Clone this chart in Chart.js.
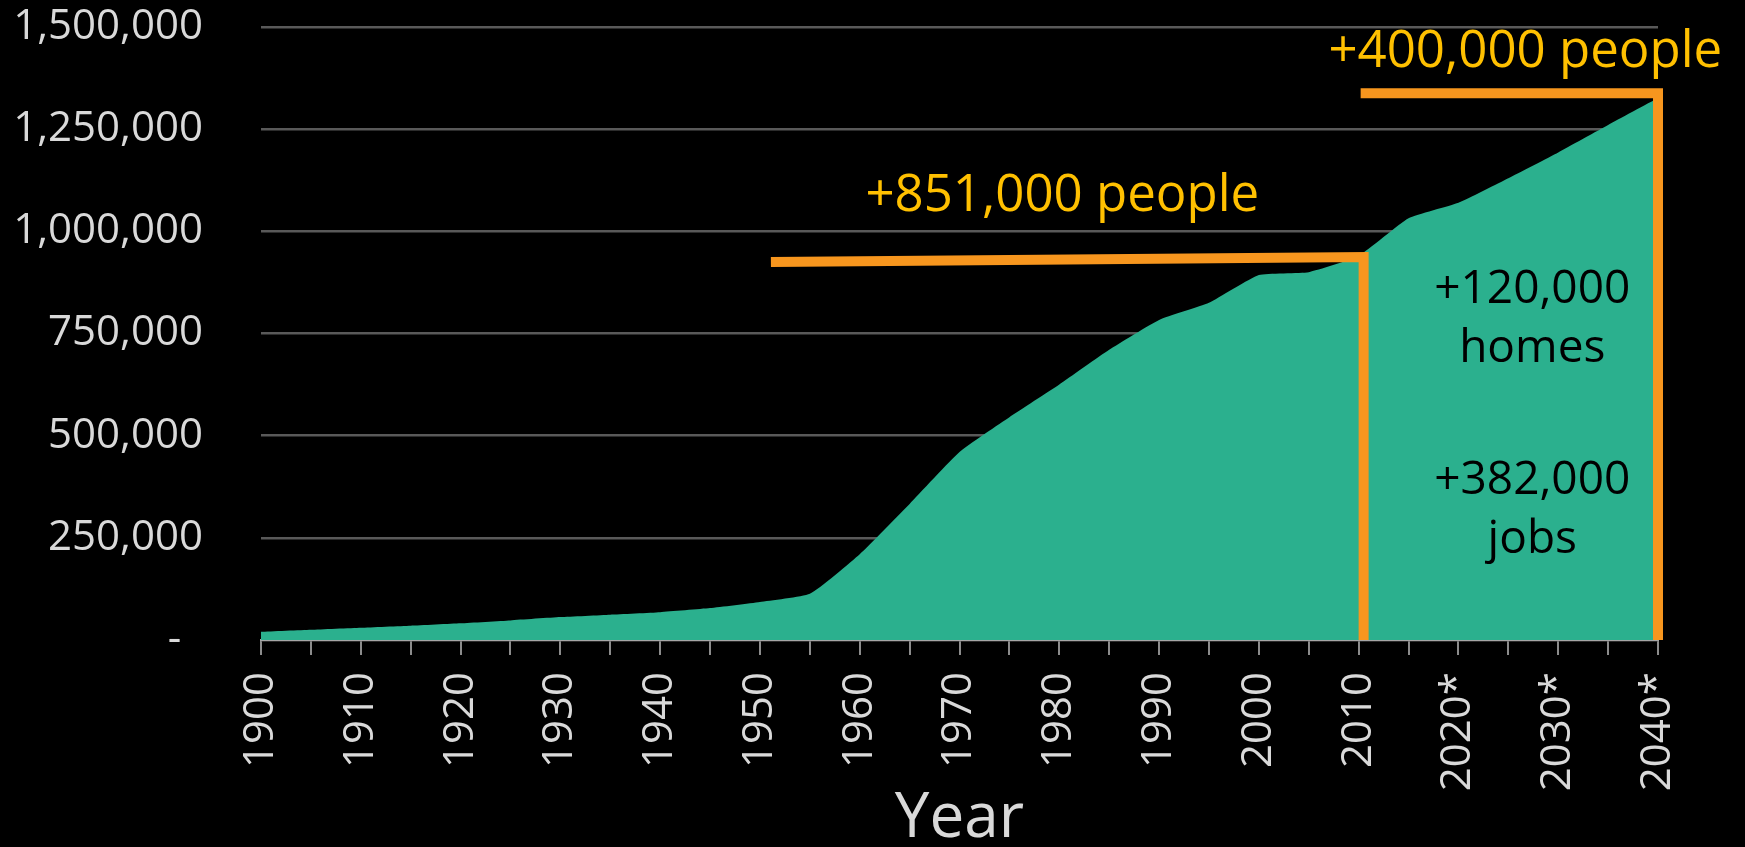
<!DOCTYPE html>
<html>
<head>
<meta charset="utf-8">
<title>Population 1900-2040</title>
<script src="https://cdn.jsdelivr.net/npm/chart.js@4"></script>
<style>
  html, body { margin: 0; padding: 0; background: #000; }
  .grafica { width: 1745px; height: 847px; }
</style>
</head>
<body>
<div class="grafica"><canvas id="myChart"></canvas></div>
<script>
// Datos (cada 5 años)
const years = [1900, 1905, 1910, 1915, 1920, 1925, 1930, 1935, 1940, 1945,
               1950, 1955, 1960, 1965, 1970, 1975, 1980, 1985, 1990, 1995,
               2000, 2005, 2010, 2015, 2020, 2025, 2030, 2035, 2040];
const population = [20000, 25000, 30000, 35000, 41000, 48000, 56000, 62000, 68000, 78000,
                    93000, 113000, 210000, 333000, 460000, 545000, 625000, 710000, 783000, 825000,
                    893000, 900000, 940000, 1032000, 1070000, 1130000, 1193000, 1260000, 1326000];
// Etiquetas del eje X (solo décadas, proyecciones con *)
const decadeLabels = ['1900', '1910', '1920', '1930', '1940', '1950', '1960', '1970',
                      '1980', '1990', '2000', '2010', '2020*', '2030*', '2040*'];
const yTicks = [0, 250000, 500000, 750000, 1000000, 1250000, 1500000];

const ctx = document.getElementById('myChart');
const orange = '#f7961e';
const gold = '#ffc000';

Chart.defaults.font.family = '"Open Sans", "Noto Sans", sans-serif';

// Plugin para dibujar las líneas naranjas y los textos
const anotaciones = {
    id: 'anotaciones',
    afterDatasetsDraw(chart) {
        const { ctx, scales: { x, y } } = chart;
        const px = year => x.getPixelForValue((year - years[0]) / 5);
        const py = v => y.getPixelForValue(v);

        ctx.save();
        ctx.strokeStyle = orange;
        ctx.lineWidth = 10;
        ctx.lineJoin = 'miter';

        // +851,000 (1950 - 2010)
        ctx.beginPath();
        ctx.moveTo(px(1951.1), py(925000));
        ctx.lineTo(px(2010.5), py(937000));
        ctx.lineTo(px(2010.5), py(0));
        ctx.stroke();

        // +400,000 (2010 - 2040)
        ctx.beginPath();
        ctx.moveTo(px(2010.2), py(1338000));
        ctx.lineTo(px(2040), py(1338000));
        ctx.lineTo(px(2040), py(0));
        ctx.stroke();

        ctx.textAlign = 'center';
        ctx.textBaseline = 'alphabetic';
        ctx.fillStyle = gold;
        ctx.font = '51px "Open Sans"';
        ctx.fillText('+851,000 people', px(1980.3), py(1049000));
        ctx.fillText('+400,000 people', px(2026.7), py(1402000));

        ctx.fillStyle = '#000';
        ctx.font = '46px "Open Sans"';
        ctx.fillText('+120,000', px(2027.4), py(824000));
        ctx.fillText('homes', px(2027.4), py(680000));
        ctx.fillText('+382,000', px(2027.4), py(357000));
        ctx.fillText('jobs', px(2027.4), py(213000));
        ctx.restore();
    }
};

new Chart(ctx, {
    type: 'line',
    data: {
        labels: years.map(String),
        datasets: [{
            label: 'Population',
            data: population,
            fill: 'origin',
            backgroundColor: '#2bb08e',
            borderWidth: 0,
            pointRadius: 0,
            tension: 0.15,
        }]
    },
    options: {
        responsive: true,
        maintainAspectRatio: false,
        animation: false,
        layout: { padding: { top: 27, right: 87, left: 0, bottom: 0 } },
        plugins: {
            legend: { display: false },
            tooltip: { enabled: false },
        },
        scales: {
            x: {
                type: 'category',
                offset: false,
                afterFit: scale => { scale.height = 207; },
                grid: {
                    drawOnChartArea: false,
                    drawTicks: true,
                    tickLength: 15,
                    color: '#8c8c8c',
                    lineWidth: 2,
                },
                border: { display: true, color: '#a6a6a6', width: 2 },
                ticks: {
                    autoSkip: false,
                    minRotation: 90,
                    maxRotation: 90,
                    padding: 17,
                    color: '#d9d9d9',
                    font: { size: 42 },
                    callback: (value, index) => index % 2 === 0 ? decadeLabels[index / 2] : '',
                },
                title: {
                    display: true,
                    text: 'Year',
                    color: '#d9d9d9',
                    font: { size: 62, lineHeight: 0.9 },
                    padding: { top: 0, bottom: 0 },
                },
            },
            y: {
                min: yTicks[0],
                max: yTicks[yTicks.length - 1],
                afterFit: scale => { scale.width = 261; },
                afterBuildTicks: scale => { scale.ticks = yTicks.map(v => ({ value: v })); },
                grid: {
                    color: '#595959',
                    lineWidth: 2.5,
                    drawTicks: true,
                    tickLength: 58,
                    tickColor: 'transparent',
                },
                border: { display: false },
                ticks: {
                    padding: 0,
                    color: '#d9d9d9',
                    font: { size: 42 },
                    callback: v => v === 0 ? '-  ' : v.toLocaleString('en-US'),
                },
            }
        }
    },
    plugins: [anotaciones]
});
</script>
</body>
</html>
